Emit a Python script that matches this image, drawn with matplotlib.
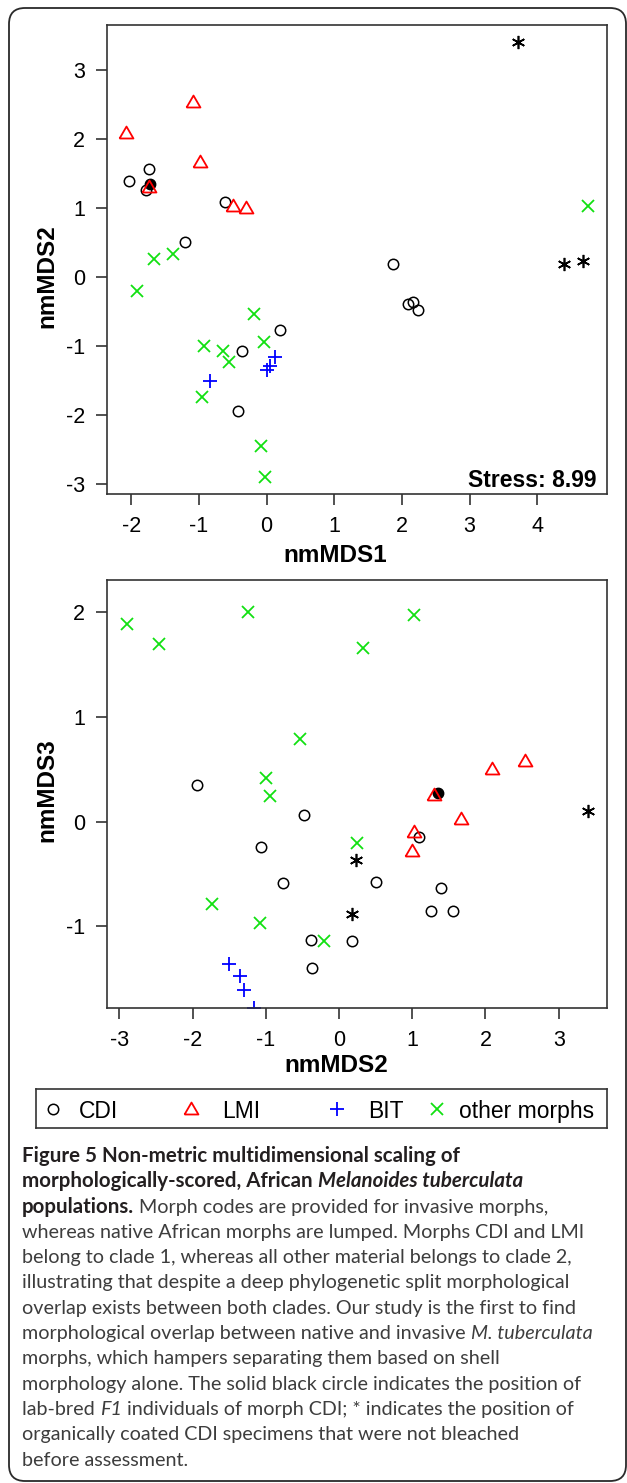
import matplotlib
matplotlib.use("Agg")
from matplotlib import pyplot as plt
from matplotlib.patches import FancyBboxPatch
import numpy as np

W, H = 627, 1483

# nmMDS scores, one entry per specimen group
cdi_mds1 = [-2.04, -1.74, -1.78, -0.62, -1.20, 1.87, 0.20, -0.37, -0.42, 2.09, 2.17, 2.24]
cdi_mds2 = [1.39, 1.56, 1.26, 1.09, 0.50, 0.18, -0.77, -1.07, -1.94, -0.39, -0.37, -0.48]
cdi_mds3 = [-0.63, -0.85, -0.85, -0.15, -0.58, -1.14, -0.59, -0.24, 0.35, -1.13, -1.40, 0.06]

lmi_mds1 = [-2.08, -1.09, -0.99, -1.74, -0.50, -0.30]
lmi_mds2 = [2.09, 2.54, 1.66, 1.30, 1.02, 1.00]
lmi_mds3 = [0.50, 0.58, 0.03, 0.26, -0.10, -0.28]

bit_mds1 = [0.12, 0.05, 0.00, -0.84]
bit_mds2 = [-1.16, -1.30, -1.35, -1.51]
bit_mds3 = [-1.78, -1.61, -1.47, -1.36]

other_mds1 = [-1.67, -1.38, 4.75, -1.92, -0.18, -0.92, -0.65, -0.56, -0.04, -0.95, -0.08, -0.02]
other_mds2 = [0.25, 0.33, 1.02, -0.20, -0.54, -1.00, -1.08, -1.24, -0.95, -1.74, -2.46, -2.90]
other_mds3 = [-0.20, 1.66, 1.98, -1.14, 0.79, 0.42, -0.97, 2.00, 0.25, -0.79, 1.70, 1.89]

f1_mds1 = [-1.73]
f1_mds2 = [1.35]
f1_mds3 = [0.27]

coated_mds1 = [3.71, 4.39, 4.67]
coated_mds2 = [3.40, 0.18, 0.23]
coated_mds3 = [0.10, -0.88, -0.37]

legend_labels = ["CDI", "LMI", "BIT", "other morphs"]

caption = [
    [("Figure 5 Non-metric multidimensional scaling of", "b")],
    [("morphologically-scored, African ", "b"), ("Melanoides tuberculata", "bi")],
    [("populations.", "b"), (" Morph codes are provided for invasive morphs,", "n")],
    [("whereas native African morphs are lumped. Morphs CDI and LMI", "n")],
    [("belong to clade 1, whereas all other material belongs to clade 2,", "n")],
    [("illustrating that despite a deep phylogenetic split morphological", "n")],
    [("overlap exists between both clades. Our study is the first to find", "n")],
    [("morphological overlap between native and invasive ", "n"), ("M. tuberculata", "i")],
    [("morphs, which hampers separating them based on shell", "n")],
    [("morphology alone. The solid black circle indicates the position of", "n")],
    [("lab-bred ", "n"), ("F1", "i"), (" individuals of morph CDI; * indicates the position of", "n")],
    [("organically coated CDI specimens that were not bleached", "n")],
    [("before assessment.", "n")],
]

plt.rcParams["font.family"] = ["Liberation Sans", "DejaVu Sans"]
plt.rcParams["axes.unicode_minus"] = False

RED = "#ff0000"
BLUE = "#0000ff"
GREEN = "#11e011"
EDGE = "#333333"
TRI = [(-1, -0.72), (1, -0.72), (0, 1.0), (-1, -0.72)]

STYLES = {
    "cdi": dict(marker="o", ms=7.5, mfc="none", mec="black", mew=1.1),
    "lmi": dict(marker=TRI, ms=10, mfc="none", mec=RED, mew=1.3),
    "bit": dict(marker="+", ms=10.5, mec=BLUE, mew=1.3),
    "other": dict(marker="x", ms=8, mec=GREEN, mew=1.3),
    "f1": dict(marker="o", ms=7.5, mfc="black", mec="black", mew=1.0),
    "coated": dict(marker=(6, 2, 0), ms=9.5, mec="black", mew=1.2),
}


def px_box(left, top, right, bottom):
    return [left / W, 1 - bottom / H, (right - left) / W, (bottom - top) / H]


def style_axes(ax):
    ax.set_facecolor("none")
    for sp in ax.spines.values():
        sp.set_color(EDGE)
        sp.set_linewidth(1.2)
    ax.tick_params(direction="out", length=8, width=1.2, color=EDGE,
                   labelsize=15.5, pad=8)


def scatter_panel(ax, xs, ys):
    ax.plot(xs["cdi"], ys["cdi"], ls="none", **STYLES["cdi"])
    ax.plot(xs["f1"], ys["f1"], ls="none", **STYLES["f1"])
    ax.plot(xs["lmi"], ys["lmi"], ls="none", **STYLES["lmi"])
    ax.plot(xs["bit"], ys["bit"], ls="none", **STYLES["bit"])
    ax.plot(xs["other"], ys["other"], ls="none", **STYLES["other"])
    ax.plot(xs["coated"], ys["coated"], ls="none", **STYLES["coated"])


mds1 = dict(cdi=cdi_mds1, lmi=lmi_mds1, bit=bit_mds1, other=other_mds1,
            f1=f1_mds1, coated=coated_mds1)
mds2 = dict(cdi=cdi_mds2, lmi=lmi_mds2, bit=bit_mds2, other=other_mds2,
            f1=f1_mds2, coated=coated_mds2)
mds3 = dict(cdi=cdi_mds3, lmi=lmi_mds3, bit=bit_mds3, other=other_mds3,
            f1=f1_mds3, coated=coated_mds3)

fig = plt.figure(figsize=(W / 100, H / 100), dpi=100)

# background layer in pixel coordinates: frame, labels, caption
bg = fig.add_axes([0, 0, 1, 1], zorder=-5)
bg.set_xlim(0, W)
bg.set_ylim(H, 0)
bg.axis("off")
bg.add_patch(FancyBboxPatch((9, 8), 617, 1473,
                            boxstyle="round,pad=0,rounding_size=16",
                            fc="none", ec="#2a2a2a", lw=1.3))

# top panel: nmMDS1 vs nmMDS2
ax1 = fig.add_axes(px_box(107, 25, 607, 494))
scatter_panel(ax1, mds1, mds2)
ax1.set_xlim(-2.36, 5.03)
ax1.set_ylim(-3.15, 3.65)
ax1.set_xticks(np.arange(-2, 5))
ax1.set_yticks(np.arange(-3, 4))
style_axes(ax1)
bg.text(596, 487, "Stress: 8.99", ha="right", va="baseline",
        fontsize=16.5, fontweight="bold")

# bottom panel: nmMDS2 vs nmMDS3
ax2 = fig.add_axes(px_box(107, 580, 607, 1008))
scatter_panel(ax2, mds2, mds3)
ax2.set_xlim(-3.17, 3.66)
ax2.set_ylim(-1.78, 2.31)
ax2.set_xticks(np.arange(-3, 4))
ax2.set_yticks(np.arange(-1, 3))
style_axes(ax2)

lab = dict(fontsize=17.5, fontweight="bold", va="baseline", ha="center")
bg.text(335.5, 562, "nmMDS1", **lab)
bg.text(336.5, 1072, "nmMDS2", **lab)
bg.text(53, 276, "nmMDS2", rotation=90, rotation_mode="anchor", **lab)
bg.text(53, 790, "nmMDS3", rotation=90, rotation_mode="anchor", **lab)

# legend strip below the bottom panel
lg = fig.add_axes(px_box(36, 1089, 607, 1128))
lg.set_xlim(36, 607)
lg.set_ylim(1128, 1089)
lg.set_xticks([])
lg.set_yticks([])
for sp in lg.spines.values():
    sp.set_color(EDGE)
    sp.set_linewidth(1.2)
keys = ["cdi", "lmi", "bit", "other"]
key_x = [53, 191, 337, 437]
text_x = [79, 222, 368, 459]
for k, kx, tx, label in zip(keys, key_x, text_x, legend_labels):
    lg.plot([kx], [1109], ls="none", **STYLES[k])
    lg.text(tx, 1118, label, fontsize=16.5, va="baseline", ha="left")

# caption with mixed bold / italic runs
renderer = fig.canvas.get_renderer()
cap_font = ["Lato", "DejaVu Sans"]
weights = {"b": ("bold", "normal"), "bi": ("bold", "italic"),
           "i": ("normal", "italic"), "n": ("normal", "normal")}
y = 1162
for line in caption:
    x = 22
    for txt, st in line:
        wt, sl = weights[st]
        col = "#231f20" if wt == "bold" else "#3d3d3d"
        size = 14.8 if wt == "bold" else 14.2
        t = bg.text(x, y, txt, fontsize=size, family=cap_font, fontweight=wt,
                    fontstyle=sl, color=col, va="baseline", ha="left")
        x += t.get_window_extent(renderer).width
    y += 25.3

fig.savefig("out.png", dpi=100)
